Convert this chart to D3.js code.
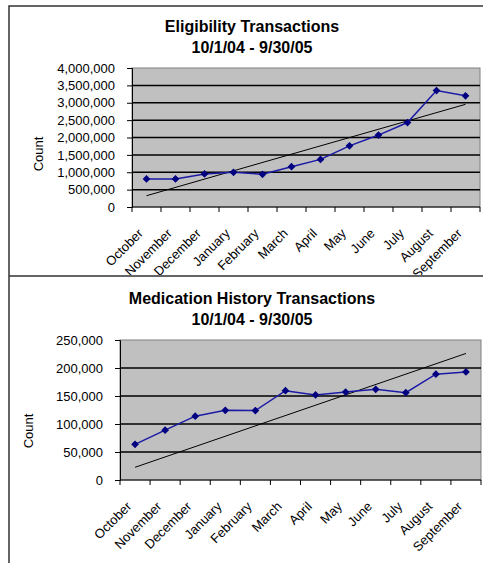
<!DOCTYPE html>
<html>
<head>
<meta charset="utf-8">
<script src="https://cdn.jsdelivr.net/npm/d3@7"></script>
<style>
  body { margin: 0; background: #fff; }
  text { font-family: "Liberation Sans", Arial, sans-serif; fill: #000; }
</style>
</head>
<body>
<svg width="483" height="563"></svg>
<script>
// month categories shared by both charts
const months = ["October", "November", "December", "January", "February", "March",
                "April", "May", "June", "July", "August", "September"];

// eligibility chart
const eligibilityCounts = [806000, 806000, 950000, 998000, 941000, 1160000,
                           1370000, 1760000, 2070000, 2430000, 3350000, 3200000];
const eligibilityTrend = [325000, 2955000]; // trend line at first / last month
const eligibilityTicks = [0, 500000, 1000000, 1500000, 2000000, 2500000, 3000000, 3500000, 4000000];

// medication history chart
const medicationCounts = [63700, 89000, 114000, 124400, 124000, 159500,
                          151800, 157000, 162000, 156000, 189000, 193000];
const medicationTrend = [22700, 226000];
const medicationTicks = [0, 50000, 100000, 150000, 200000, 250000];

const svg = d3.select("svg");
const fmt = d3.format(",");

function drawChart(o) {
    const g = svg.append("g");
    if (o.clip) g.attr("clip-path", o.clip);

    const x = d3.scaleBand()
        .domain(months)
        .range([o.left, o.right]);

    const y = d3.scaleLinear()
        .domain([0, d3.max(o.ticks)])
        .range([o.bottom, o.top]);

    // titles
    g.append("text")
        .attr("x", 252).attr("y", o.titleY)
        .attr("text-anchor", "middle")
        .attr("font-weight", "bold")
        .attr("font-size", 16)
        .text(o.title);
    g.append("text")
        .attr("x", 252).attr("y", o.titleY + 21)
        .attr("text-anchor", "middle")
        .attr("font-weight", "bold")
        .attr("font-size", 16)
        .text("10/1/04 - 9/30/05");

    // plot area
    g.append("rect")
        .attr("x", o.left).attr("y", o.top)
        .attr("width", o.right - o.left)
        .attr("height", o.bottom - o.top)
        .attr("fill", "#c0c0c0")
        .attr("stroke", "#808080");

    // gridlines
    g.append("g")
        .selectAll("line")
        .data(o.ticks.filter(t => t > 0 && t < d3.max(o.ticks)))
        .join("line")
        .attr("x1", o.left).attr("x2", o.right)
        .attr("y1", d => y(d)).attr("y2", d => y(d))
        .attr("stroke", "#000")
        .attr("stroke-width", 1.5);

    // y axis
    const yAxis = g.append("g")
        .attr("transform", `translate(${o.left},0)`)
        .call(d3.axisLeft(y).tickValues(o.ticks).tickFormat(fmt).tickSize(5).tickPadding(12));
    yAxis.select(".domain").attr("stroke", "#000");
    yAxis.selectAll("text")
        .attr("font-size", 13)
        .attr("font-family", "Liberation Sans, Arial, sans-serif");

    // x axis: ticks on category boundaries
    const bounds = months.map(m => x(m)).concat([o.right]);
    g.append("line")
        .attr("x1", o.left).attr("x2", o.right)
        .attr("y1", o.bottom).attr("y2", o.bottom)
        .attr("stroke", "#000");
    g.append("g")
        .selectAll("line")
        .data(bounds)
        .join("line")
        .attr("x1", d => d).attr("x2", d => d)
        .attr("y1", o.bottom).attr("y2", o.bottom + 5)
        .attr("stroke", "#000");

    g.append("g")
        .selectAll("text")
        .data(months)
        .join("text")
        .attr("transform", d => `translate(${x(d) + x.bandwidth() / 2 - 6},${o.bottom + 24}) rotate(-45)`)
        .attr("text-anchor", "end")
        .attr("dy", "0.35em")
        .attr("font-size", 13)
        .text(d => d);

    // y axis title
    g.append("text")
        .attr("transform", `translate(${o.countX},${o.countY}) rotate(-90)`)
        .attr("text-anchor", "middle")
        .attr("dy", "0.35em")
        .attr("font-size", 13)
        .text("Count");

    // trend line
    const cx = d => x(d) + x.bandwidth() / 2;
    g.append("line")
        .attr("x1", cx(months[0])).attr("y1", y(o.trend[0]))
        .attr("x2", cx(months[months.length - 1])).attr("y2", y(o.trend[1]))
        .attr("stroke", "#000")
        .attr("stroke-width", 1);

    // data line
    const line = d3.line()
        .x((d, i) => cx(months[i]))
        .y(d => y(d));
    g.append("path")
        .datum(o.values)
        .attr("d", line)
        .attr("fill", "none")
        .attr("stroke", "#1a1aa6")
        .attr("stroke-width", 1.5);

    g.append("g")
        .selectAll("path")
        .data(o.values)
        .join("path")
        .attr("transform", (d, i) => `translate(${cx(months[i])},${y(d)}) rotate(45)`)
        .attr("d", d3.symbol(d3.symbolSquare, 30))
        .attr("fill", "#000080");
}

// top chart is cut off by the frame separator
svg.append("clipPath").attr("id", "clipTop")
    .append("rect").attr("x", 0).attr("y", 0).attr("width", 483).attr("height", 275);

drawChart({
    title: "Eligibility Transactions", titleY: 32,
    values: eligibilityCounts, trend: eligibilityTrend, ticks: eligibilityTicks,
    left: 132, right: 480, top: 68, bottom: 207,
    countX: 38, countY: 154, clip: "url(#clipTop)"
});

drawChart({
    title: "Medication History Transactions", titleY: 304,
    values: medicationCounts, trend: medicationTrend, ticks: medicationTicks,
    left: 120, right: 481, top: 340, bottom: 480,
    countX: 28, countY: 431
});

// outer frames
svg.append("path")
    .attr("d", "M9,563 V6 H490 M9,276 H490")
    .attr("fill", "none")
    .attr("stroke", "#333")
    .attr("stroke-width", 1.5);
</script>
</body>
</html>
